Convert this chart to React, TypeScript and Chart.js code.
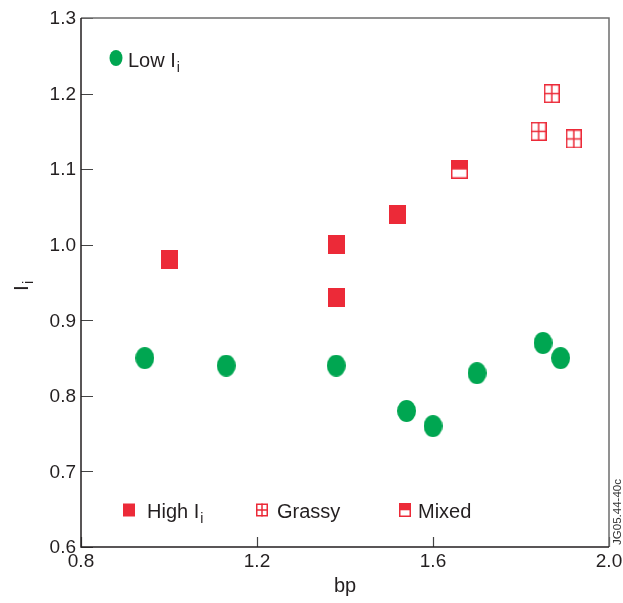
import { useEffect, useRef } from "react";
import { Chart, registerables } from "chart.js";

Chart.register(...registerables);

// Low I_i points
const lowBp = [0.945, 1.13, 1.38, 1.54, 1.6, 1.7, 1.85, 1.89];
const lowIi = [0.85, 0.84, 0.84, 0.78, 0.76, 0.83, 0.87, 0.85];
// High I_i points
const highBp = [1.0, 1.38, 1.38, 1.52];
const highIi = [0.98, 1.0, 0.93, 1.04];
// Grassy ELM points
const grassyBp = [1.87, 1.84, 1.92];
const grassyIi = [1.2, 1.15, 1.14];
// Mixed points
const mixedBp = [1.66];
const mixedIi = [1.1];

const xTicks = [0.8, 1.2, 1.6, 2.0];
const yTicks = [0.6, 0.7, 0.8, 0.9, 1.0, 1.1, 1.2, 1.3];

const RED = "#ec2a38";
const GREEN = "#00a651";
const INK = "#231f20";
const FONT = "'Liberation Sans', Arial, Helvetica, sans-serif";

type Ctx = CanvasRenderingContext2D;

function drawEllipse(ctx: Ctx, cx: number, cy: number, w: number, h: number) {
  ctx.fillStyle = GREEN;
  ctx.beginPath();
  ctx.ellipse(cx, cy, w / 2, h / 2, 0, 0, Math.PI * 2);
  ctx.fill();
}

function drawSquare(ctx: Ctx, cx: number, cy: number, w: number, h: number) {
  ctx.fillStyle = RED;
  ctx.fillRect(cx - w / 2, cy - h / 2, w, h);
}

function drawGrassy(ctx: Ctx, cx: number, cy: number, w: number, h: number) {
  ctx.strokeStyle = RED;
  ctx.lineWidth = 1.5;
  ctx.strokeRect(cx - w / 2 + 0.75, cy - h / 2 + 0.75, w - 1.5, h - 1.5);
  ctx.beginPath();
  ctx.moveTo(cx, cy - h / 2);
  ctx.lineTo(cx, cy + h / 2);
  ctx.moveTo(cx - w / 2, cy);
  ctx.lineTo(cx + w / 2, cy);
  ctx.stroke();
}

function drawMixed(ctx: Ctx, cx: number, cy: number, w: number, h: number) {
  ctx.fillStyle = "#ffffff";
  ctx.fillRect(cx - w / 2, cy - h / 2, w, h);
  ctx.fillStyle = RED;
  ctx.fillRect(cx - w / 2, cy - h / 2, w, h * 0.52);
  ctx.strokeStyle = RED;
  ctx.lineWidth = 1.5;
  ctx.strokeRect(cx - w / 2 + 0.75, cy - h / 2 + 0.75, w - 1.5, h - 1.5);
}

function markerImage(
  w: number,
  h: number,
  draw: (ctx: Ctx, cx: number, cy: number, w: number, h: number) => void
) {
  const c = document.createElement("canvas");
  c.width = w;
  c.height = h;
  const ctx = c.getContext("2d") as Ctx;
  draw(ctx, w / 2, h / 2, w, h);
  return c;
}

// Text with a subscript, left aligned at x, vertically centred on y
function subText(ctx: Ctx, x: number, y: number, main: string, sub: string, size: number) {
  ctx.fillStyle = INK;
  ctx.textAlign = "left";
  ctx.textBaseline = "alphabetic";
  ctx.font = `${size}px ${FONT}`;
  const base = y + size * 0.36;
  ctx.fillText(main, x, base);
  const mw = ctx.measureText(main).width;
  ctx.font = `${Math.round(size * 0.68)}px ${FONT}`;
  ctx.fillText(sub, x + mw + 1, base + size * 0.25);
}

const framePlugin = {
  id: "frameAndNotes",
  beforeDatasetsDraw(chart: any) {
    const { ctx, chartArea: a, scales } = chart;
    ctx.save();
    // inward tick marks
    ctx.strokeStyle = "#444";
    ctx.lineWidth = 1.2;
    ctx.beginPath();
    for (const v of yTicks) {
      const y = Math.round(scales.y.getPixelForValue(v)) + 0.5;
      ctx.moveTo(a.left, y);
      ctx.lineTo(a.left + 12, y);
    }
    for (const v of xTicks) {
      const x = Math.round(scales.x.getPixelForValue(v)) + 0.5;
      ctx.moveTo(x, a.bottom);
      ctx.lineTo(x, a.bottom - 10);
    }
    ctx.stroke();
    // frame
    ctx.lineWidth = 1.5;
    ctx.strokeStyle = "#6e6e6e";
    ctx.beginPath();
    ctx.moveTo(a.left, a.top);
    ctx.lineTo(a.right, a.top);
    ctx.lineTo(a.right, a.bottom);
    ctx.stroke();
    ctx.strokeStyle = INK;
    ctx.beginPath();
    ctx.moveTo(a.left, a.top);
    ctx.lineTo(a.left, a.bottom);
    ctx.lineTo(a.right, a.bottom);
    ctx.stroke();
    ctx.restore();
  },
  afterDraw(chart: any) {
    const { ctx, chartArea: a } = chart;
    ctx.save();
    // legend: Low I_i
    drawEllipse(ctx, a.left + 35, a.top + 40, 13, 16);
    subText(ctx, a.left + 47, a.top + 42, "Low I", "i", 20);
    // legend row at the bottom
    const ly = a.bottom - 37;
    drawSquare(ctx, a.left + 48, ly, 12, 13);
    subText(ctx, a.left + 66, ly + 1, "High I", "i", 20);
    drawGrassy(ctx, a.left + 181, ly, 12, 13);
    subText(ctx, a.left + 196, ly + 1, "Grassy", "", 20);
    drawMixed(ctx, a.left + 324, ly, 12, 14);
    subText(ctx, a.left + 337, ly + 1, "Mixed", "", 20);

    // x axis title
    ctx.fillStyle = INK;
    ctx.font = `20px ${FONT}`;
    ctx.textAlign = "center";
    ctx.textBaseline = "middle";
    ctx.fillText("bp", (a.left + a.right) / 2, 586);

    // y axis title, rotated
    ctx.save();
    ctx.translate(28, 288);
    ctx.rotate(-Math.PI / 2);
    ctx.textAlign = "center";
    ctx.textBaseline = "alphabetic";
    ctx.font = `21px ${FONT}`;
    ctx.fillText("I", 0, 0);
    ctx.font = `14px ${FONT}`;
    ctx.textAlign = "left";
    ctx.fillText("i", 4, 5);
    ctx.restore();

    // figure id
    ctx.save();
    ctx.translate(621, 512);
    ctx.rotate(-Math.PI / 2);
    ctx.textAlign = "center";
    ctx.textBaseline = "alphabetic";
    ctx.font = `11.5px ${FONT}`;
    ctx.fillStyle = "#333";
    ctx.fillText("JG05.44-40c", 0, 0);
    ctx.restore();
    ctx.restore();
  },
};

function pts(xs: number[], ys: number[]) {
  return xs.map((x, i) => ({ x, y: ys[i] }));
}

export default function App() {
  const ref = useRef<HTMLCanvasElement>(null);

  useEffect(() => {
    if (!ref.current) return;
    const ellipse = markerImage(19, 22, drawEllipse);
    const square = markerImage(17, 19, drawSquare);
    const grassy = markerImage(16, 19, drawGrassy);
    const mixed = markerImage(17, 19, drawMixed);

    const tickFont = { family: FONT, size: 19 };

    const chart = new Chart(ref.current, {
      type: "scatter",
      data: {
        datasets: [
          { label: "Low Ii", data: pts(lowBp, lowIi), pointStyle: ellipse as any, pointRadius: 10 },
          { label: "High Ii", data: pts(highBp, highIi), pointStyle: square as any, pointRadius: 10 },
          { label: "Grassy", data: pts(grassyBp, grassyIi), pointStyle: grassy as any, pointRadius: 10 },
          { label: "Mixed", data: pts(mixedBp, mixedIi), pointStyle: mixed as any, pointRadius: 10 },
        ],
      },
      options: {
        responsive: false,
        animation: false,
        devicePixelRatio: 1,
        layout: { padding: { top: 18, right: 14, left: 0, bottom: 0 } },
        plugins: { legend: { display: false }, tooltip: { enabled: false } },
        scales: {
          x: {
            type: "linear",
            min: 0.8,
            max: 2.0,
            afterBuildTicks: (s: any) => {
              s.ticks = xTicks.map((v) => ({ value: v }));
            },
            afterFit: (s: any) => {
              s.height = 56;
              s.paddingLeft = 0;
              s.paddingRight = 0;
            },
            ticks: {
              autoSkip: false,
              maxRotation: 0,
              padding: 3,
              color: INK,
              font: tickFont,
              callback: (v: any) => Number(v).toFixed(1),
            },
            grid: { display: false, drawTicks: false },
            border: { display: false },
          },
          y: {
            type: "linear",
            min: 0.6,
            max: 1.3,
            afterBuildTicks: (s: any) => {
              s.ticks = yTicks.map((v) => ({ value: v }));
            },
            afterFit: (s: any) => {
              s.width = 81;
              s.paddingTop = 0;
              s.paddingBottom = 0;
            },
            ticks: {
              autoSkip: false,
              padding: 5,
              labelOffset: 1,
              color: INK,
              font: tickFont,
              callback: (v: any) => Number(v).toFixed(1),
            },
            grid: { display: false, drawTicks: false },
            border: { display: false },
          },
        },
      },
      plugins: [framePlugin],
    });
    return () => chart.destroy();
  }, []);

  return (
    <div style={{ position: "fixed", left: 0, top: 0, width: 623, height: 603, background: "#fff" }}>
      <canvas ref={ref} width={623} height={603} />
    </div>
  );
}
